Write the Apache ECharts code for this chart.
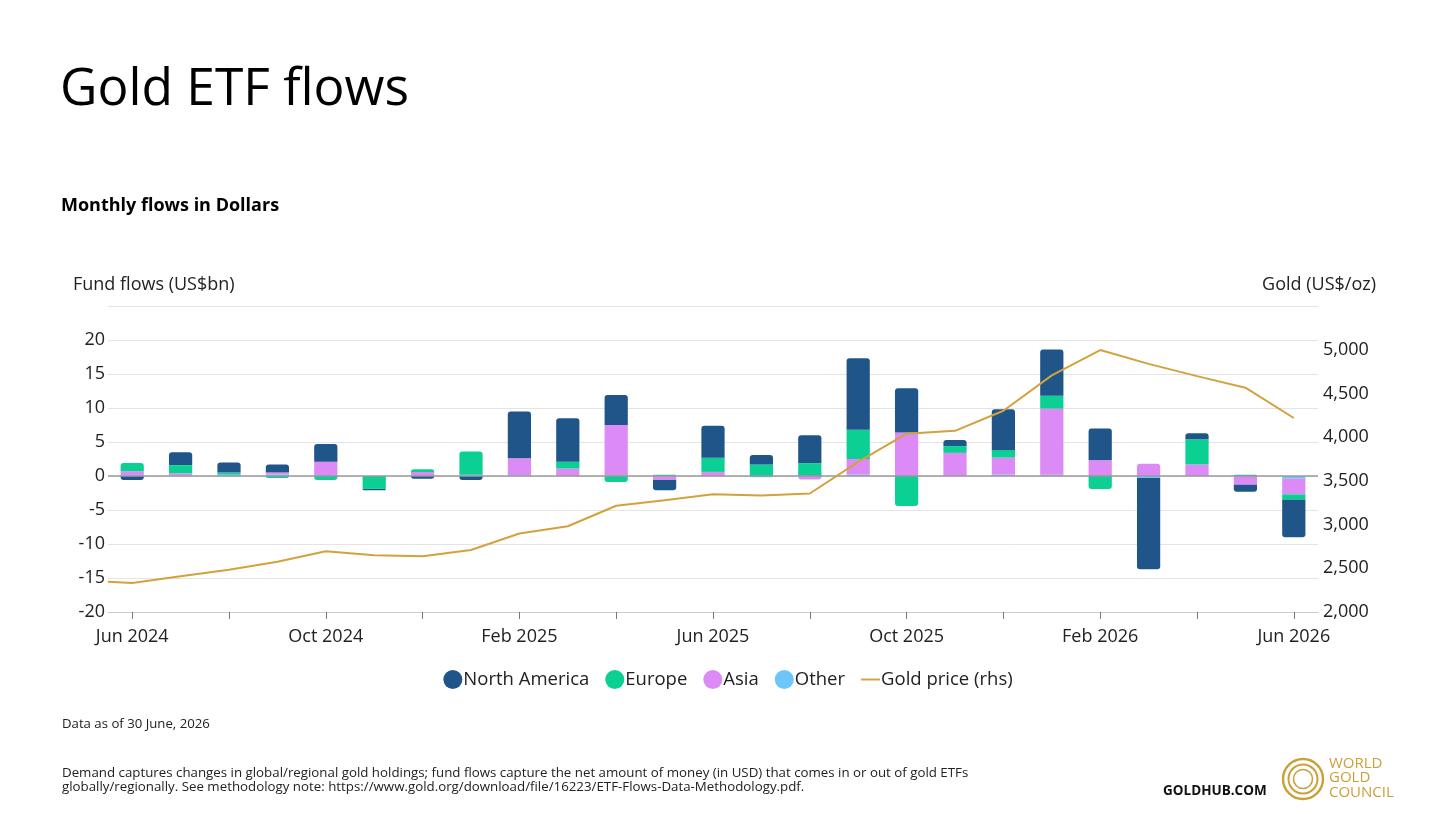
<!DOCTYPE html>
<html>
<head>
<meta charset="utf-8">
<title>Gold ETF flows</title>
<script src="https://cdn.jsdelivr.net/npm/echarts@6/dist/echarts.min.js"></script>
<style>
  html, body { margin: 0; padding: 0; background: #fff; }
  #chart { width: 1456px; height: 819px; }
</style>
</head>
<body>
<div id="chart"></div>
<script>
// monthly categories, Jun 2024 .. Jun 2026
var months = ['Jun 2024', 'Jul 2024', 'Aug 2024', 'Sep 2024', 'Oct 2024', 'Nov 2024', 'Dec 2024',
  'Jan 2025', 'Feb 2025', 'Mar 2025', 'Apr 2025', 'May 2025', 'Jun 2025', 'Jul 2025', 'Aug 2025',
  'Sep 2025', 'Oct 2025', 'Nov 2025', 'Dec 2025', 'Jan 2026', 'Feb 2026', 'Mar 2026', 'Apr 2026',
  'May 2026', 'Jun 2026'];

// fund flows, US$bn
var northAmerica = [-0.6, 1.9, 1.5, 1.2, 2.6, -0.2, -0.4, -0.6, 6.9, 6.4, 4.4, -1.5, 4.7, 1.4, 4.1,
  10.5, 6.5, 0.9, 6.0, 6.8, 4.7, -13.4, 0.9, -1.0, -5.5];
var europe = [1.2, 1.2, 0.3, -0.3, -0.6, -1.9, 0.4, 3.4, 0.0, 1.0, -0.9, 0.2, 2.1, 1.7, 1.9,
  4.3, -4.4, 1.0, 1.1, 1.9, -1.9, 0.0, 3.7, 0.2, -0.8];
var asia = [0.6, 0.3, 0.0, 0.3, 2.1, 0.0, 0.6, 0.1, 2.5, 1.1, 7.4, -0.5, 0.6, 0.0, -0.5,
  2.3, 6.4, 3.4, 2.5, 9.7, 2.3, 1.8, 1.7, -1.3, -2.3];
var other = [0.1, 0.1, 0.2, 0.2, 0.0, 0.0, 0.0, 0.1, 0.1, 0.0, 0.1, -0.1, 0.0, -0.2, 0.0,
  0.2, 0.0, 0.0, 0.2, 0.2, 0.0, -0.3, 0.0, 0.0, -0.4];

// gold price, US$/oz (goldStart = end of May 2024, at the left edge)
var goldStart = 2347;
var goldPrice = [2332, 2408, 2483, 2574, 2694, 2649, 2638, 2709, 2898, 2981, 3215, 3279, 3347,
  3332, 3355, 3717, 4040, 4072, 4302, 4706, 4996, 4838, 4698, 4566, 4219];

var FONT = '"Open Sans", "Noto Sans", sans-serif';
var colors = {
  'North America': '#20558a',
  'Europe': '#0bcf93',
  'Asia': '#dc8bf6',
  'Other': '#6cc6fb',
  'Gold': '#d2a23c'
};

// stack order from the zero line outwards
var stackSeries = [
  { name: 'Other', data: other },
  { name: 'Asia', data: asia },
  { name: 'Europe', data: europe },
  { name: 'North America', data: northAmerica }
];

// round only the outer end of each stack
function outerIndex(i, positive) {
  var idx = -1;
  stackSeries.forEach(function (s, k) {
    var v = s.data[i];
    if (positive ? v > 0 : v < 0) idx = k;
  });
  return idx;
}

var barSeries = stackSeries.map(function (s, k) {
  return {
    name: s.name,
    type: 'bar',
    stack: 'flows',
    barWidth: '48%',
    itemStyle: { color: colors[s.name] },
    data: s.data.map(function (v, i) {
      var r = 0;
      if (v > 0 && outerIndex(i, true) === k) r = [3, 3, 0, 0];
      if (v < 0 && outerIndex(i, false) === k) r = [0, 0, 3, 3];
      return { value: v, itemStyle: { borderRadius: r } };
    })
  };
});

barSeries[0].markLine = {
  silent: true,
  symbol: 'none',
  label: { show: false },
  lineStyle: { color: '#9a9a9a', width: 1.5, type: 'solid' },
  data: [{ yAxis: 0 }]
};

var goldData = [[-0.5, goldStart]].concat(goldPrice.map(function (v, i) { return [i, v]; }));

var chart = echarts.init(document.getElementById('chart'));

var option = {
  backgroundColor: '#ffffff',
  textStyle: { fontFamily: FONT },
  animation: false,
  grid: { left: 108, right: 138, top: 306, bottom: 207, containLabel: false },
  legend: {
    top: 665,
    left: 'center',
    itemGap: 16,
    itemWidth: 19,
    itemHeight: 19,
    textStyle: { fontSize: 18.5, color: '#222', fontFamily: FONT, padding: [0, 0, 0, -4] },
    data: [
      { name: 'North America', icon: 'circle' },
      { name: 'Europe', icon: 'circle' },
      { name: 'Asia', icon: 'circle' },
      { name: 'Other', icon: 'circle' },
      { name: 'Gold price (rhs)', icon: 'path://M0 9h20v2H0z' }
    ]
  },
  xAxis: [{
    type: 'category',
    data: months,
    boundaryGap: true,
    axisLine: { onZero: false, lineStyle: { color: '#cccccc', width: 1 } },
    axisTick: { show: true, alignWithLabel: true, interval: 1, length: 7, lineStyle: { color: '#777' } },
    axisLabel: { interval: 3, fontSize: 18, color: '#222', margin: 16, fontFamily: FONT }
  }, {
    type: 'value',
    min: -0.5,
    max: 24.5,
    show: false
  }],
  yAxis: [{
    type: 'value',
    min: -20,
    max: 25,
    interval: 5,
    axisLine: { show: false },
    axisTick: { show: false },
    axisLabel: { fontSize: 18, color: '#222', margin: 3, showMaxLabel: false, fontFamily: FONT },
    splitLine: { lineStyle: { color: '#e4e4e4', width: 1 } }
  }, {
    type: 'value',
    min: 2000,
    max: 5500,
    interval: 500,
    position: 'right',
    axisLine: { show: false },
    axisTick: { show: false },
    splitLine: { show: false },
    axisLabel: {
      fontSize: 18, color: '#222', margin: 5, showMaxLabel: false, fontFamily: FONT,
      formatter: function (v) { return v.toLocaleString('en-US'); }
    }
  }],
  series: barSeries.concat([{
    name: 'Gold price (rhs)',
    type: 'line',
    xAxisIndex: 1,
    yAxisIndex: 1,
    data: goldData,
    symbol: 'none',
    z: 5,
    lineStyle: { color: colors.Gold, width: 2 },
    itemStyle: { color: colors.Gold }
  }]),
  graphic: [
    { type: 'text', left: 60, top: 64, style: { text: 'Gold ETF flows', font: '51.5px ' + FONT, fill: '#000' } },
    { type: 'text', left: 61, top: 197, style: { text: 'Monthly flows in Dollars', font: 'bold 18px ' + FONT, fill: '#000' } },
    { type: 'text', left: 73, top: 276, style: { text: 'Fund flows (US$bn)', font: '18px ' + FONT, fill: '#222' } },
    { type: 'text', right: 80, top: 276, style: { text: 'Gold (US$/oz)', font: '18px ' + FONT, fill: '#222' } },
    { type: 'text', left: 62, top: 718, style: { text: 'Data as of 30 June, 2026', font: '13.2px ' + FONT, fill: '#222' } },
    {
      type: 'text', left: 62, top: 766,
      style: {
        text: 'Demand captures changes in global/regional gold holdings; fund flows capture the net amount of money (in USD) that comes in or out of gold ETFs\nglobally/regionally. See methodology note: https://www.gold.org/download/file/16223/ETF-Flows-Data-Methodology.pdf.',
        font: '13.3px ' + FONT, fill: '#222', lineHeight: 14
      }
    },
    { type: 'text', left: 1163, top: 784, style: { text: 'GOLDHUB.COM', font: 'bold 13.5px ' + FONT, fill: '#111' } },
    // World Gold Council mark
    { type: 'circle', shape: { cx: 1303, cy: 779, r: 20 }, style: { fill: 'none', stroke: '#c9a13b', lineWidth: 2.4 } },
    { type: 'circle', shape: { cx: 1303, cy: 779, r: 14.5 }, style: { fill: 'none', stroke: '#c9a13b', lineWidth: 2 } },
    { type: 'circle', shape: { cx: 1303, cy: 779, r: 9.5 }, style: { fill: 'none', stroke: '#c9a13b', lineWidth: 1.6 } },
    {
      type: 'text', left: 1329, top: 756,
      style: { text: 'WORLD\nGOLD\nCOUNCIL', font: '15px ' + FONT, fill: '#c9a13b', lineHeight: 14.5 }
    }
  ]
};

chart.setOption(option);
</script>
</body>
</html>
